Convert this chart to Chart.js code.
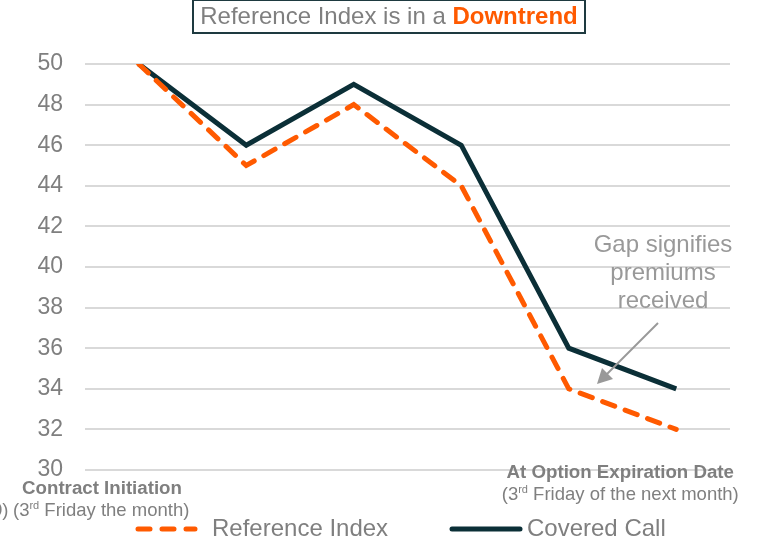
<!DOCTYPE html>
<html>
<head>
<meta charset="utf-8">
<script src="https://cdn.jsdelivr.net/npm/chart.js@4"></script>
<style>
  html, body { margin: 0; padding: 0; background: #fff; }
  #wrap { width: 766px; height: 552px; position: relative; }
</style>
</head>
<body>
<div id="wrap"><canvas id="downtrend" width="766" height="552"></canvas></div>
<script>
const categories = ["Contract Initiation", "", "", "", "", "At Option Expiration Date"];
const referenceIndex = [50, 45, 48, 44, 34, 32];
const coveredCall = [50, 46, 49, 46, 36, 34];
const yTicks = [30, 32, 34, 36, 38, 40, 42, 44, 46, 48, 50];

const ORANGE = "#FF5A00";
const DARK = "#0B2F37";
const GREY = "#7F7F7F";
const FONT = "'Liberation Sans', Arial, sans-serif";

// draws text with a superscript piece, e.g. 3rd
function drawParts(ctx, parts, x, y, align) {
  let total = 0;
  parts.forEach(p => {
    ctx.font = p.font;
    total += ctx.measureText(p.text).width;
  });
  let cx = align === "center" ? x - total / 2 : x;
  ctx.textAlign = "left";
  parts.forEach(p => {
    ctx.font = p.font;
    ctx.fillText(p.text, cx, y + (p.dy || 0));
    cx += ctx.measureText(p.text).width;
  });
}

const extras = {
  id: "extras",
  afterDraw(chart) {
    const ctx = chart.ctx;
    ctx.save();

    // title box
    ctx.strokeStyle = "#1E3A40";
    ctx.lineWidth = 2;
    ctx.strokeRect(193, 0, 392, 33);
    ctx.textBaseline = "middle";
    const t1 = "Reference Index is in a ";
    ctx.font = "24px " + FONT;
    const w1 = ctx.measureText(t1).width;
    ctx.font = "bold 24px " + FONT;
    const w2 = ctx.measureText("Downtrend").width;
    let tx = 389 - (w1 + w2) / 2;
    ctx.textAlign = "left";
    ctx.fillStyle = GREY;
    ctx.font = "24px " + FONT;
    ctx.fillText(t1, tx, 17);
    ctx.fillStyle = ORANGE;
    ctx.font = "bold 24px " + FONT;
    ctx.fillText("Downtrend", tx + w1, 17);

    // x labels
    const x = chart.scales.x;
    ctx.fillStyle = GREY;
    ctx.textBaseline = "middle";
    const sup = "11px " + FONT;
    const reg = "18.5px " + FONT;
    const bold = "bold 18.7px " + FONT;
    ctx.font = bold;
    ctx.textAlign = "center";
    ctx.fillText("Contract Initiation", 102, 489);
    ctx.font = reg;
    ctx.textAlign = "left";
    ctx.fillText("0)", -8, 511);
    drawParts(ctx, [
      { text: "(3", font: reg },
      { text: "rd", font: sup, dy: -5 },
      { text: " Friday the month)", font: reg }
    ], 13, 511, "left");

    const xr = x.getPixelForValue(5) - 56;
    ctx.font = bold;
    ctx.textAlign = "center";
    ctx.fillText("At Option Expiration Date", xr, 473);
    drawParts(ctx, [
      { text: "(3", font: reg },
      { text: "rd", font: sup, dy: -5 },
      { text: " Friday of the next month)", font: reg }
    ], xr, 495, "center");

    // annotation
    ctx.font = "24px " + FONT;
    ctx.fillStyle = "#999999";
    ctx.textAlign = "center";
    ["Gap signifies", "premiums", "received"].forEach((s, i) => {
      ctx.fillText(s, 663, 245 + i * 28);
    });
    ctx.strokeStyle = "#999999";
    ctx.lineWidth = 2;
    ctx.beginPath();
    ctx.moveTo(658, 323);
    ctx.lineTo(606, 375);
    ctx.stroke();
    ctx.beginPath();
    ctx.moveTo(597, 384);
    ctx.lineTo(602, 368);
    ctx.lineTo(613, 379);
    ctx.closePath();
    ctx.fill();

    // legend
    ctx.lineCap = "round";
    ctx.lineWidth = 5;
    ctx.strokeStyle = ORANGE;
    ctx.setLineDash([12, 12]);
    ctx.beginPath();
    ctx.moveTo(138, 529);
    ctx.lineTo(195, 529);
    ctx.stroke();
    ctx.setLineDash([]);
    ctx.strokeStyle = DARK;
    ctx.beginPath();
    ctx.moveTo(452, 529);
    ctx.lineTo(520, 529);
    ctx.stroke();
    ctx.fillStyle = GREY;
    ctx.font = "24px " + FONT;
    ctx.textAlign = "left";
    ctx.fillText("Reference Index", 212, 529);
    ctx.fillText("Covered Call", 527, 529);

    ctx.restore();
  }
};

new Chart(document.getElementById("downtrend"), {
  type: "line",
  data: {
    labels: categories,
    datasets: [
      {
        label: "Covered Call",
        data: coveredCall,
        borderColor: DARK,
        borderWidth: 5,
        pointRadius: 0,
        tension: 0,
        order: 1
      },
      {
        label: "Reference Index",
        data: referenceIndex,
        borderColor: ORANGE,
        borderWidth: 5,
        borderDash: [13, 11],
        borderCapStyle: "round",
        pointRadius: 0,
        tension: 0,
        order: 0
      }
    ]
  },
  options: {
    responsive: false,
    animation: false,
    layout: {
      padding: { left: 0, right: 36, top: 64, bottom: 74 }
    },
    plugins: {
      legend: { display: false },
      title: { display: false },
      tooltip: { enabled: false }
    },
    scales: {
      x: {
        offset: true,
        grid: { display: false },
        border: { display: false },
        ticks: { display: false }
      },
      y: {
        min: 30,
        max: 50,
        afterFit(axis) { axis.width = 85; },
        afterBuildTicks(axis) { axis.ticks = yTicks.map(v => ({ value: v })); },
        grid: { color: "#D9D9D9", lineWidth: 2, drawTicks: false },
        border: { display: false },
        ticks: {
          color: GREY,
          padding: 22,
          font: { family: FONT, size: 23 }
        }
      }
    }
  },
  plugins: [extras]
});
</script>
</body>
</html>
